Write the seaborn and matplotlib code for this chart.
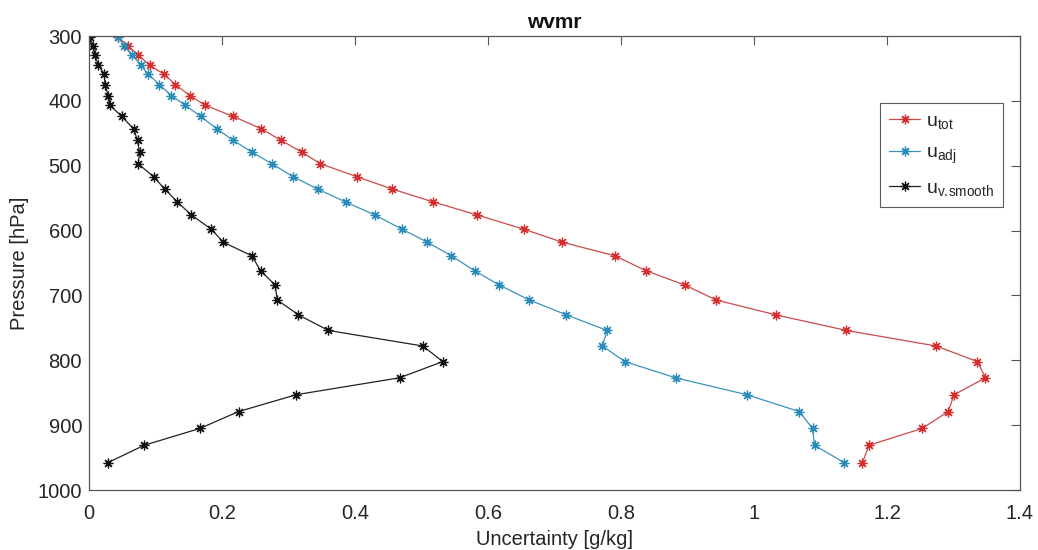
import matplotlib
matplotlib.use("Agg")
import matplotlib.pyplot as plt
import seaborn as sns
import pandas as pd

pressure = [302, 315, 329, 345, 359, 375, 392, 407, 424, 443, 461, 479, 497, 517, 536,
            556, 576, 598, 618, 639, 662, 684, 707, 730, 754, 778, 802, 827, 853, 879,
            905, 931, 958]

u_tot = [0.044, 0.058, 0.074, 0.091, 0.113, 0.130, 0.152, 0.175, 0.217, 0.259, 0.289,
         0.320, 0.348, 0.403, 0.456, 0.518, 0.584, 0.654, 0.712, 0.791, 0.838, 0.896,
         0.943, 1.033, 1.139, 1.274, 1.336, 1.348, 1.301, 1.292, 1.253, 1.173, 1.163]

u_adj = [0.044, 0.053, 0.065, 0.078, 0.089, 0.106, 0.124, 0.145, 0.168, 0.192, 0.217,
         0.245, 0.275, 0.307, 0.344, 0.386, 0.430, 0.471, 0.509, 0.545, 0.580, 0.617,
         0.662, 0.718, 0.779, 0.772, 0.806, 0.882, 0.989, 1.068, 1.088, 1.091, 1.136]

u_vsmooth = [0.001, 0.0065, 0.009, 0.014, 0.023, 0.024, 0.029, 0.032, 0.049, 0.067, 0.073,
             0.076, 0.074, 0.097, 0.114, 0.133, 0.154, 0.184, 0.202, 0.245, 0.258, 0.280,
             0.283, 0.315, 0.360, 0.502, 0.532, 0.467, 0.312, 0.225, 0.167, 0.083, 0.028]

series_labels = [r"$\mathregular{u_{tot}}$", r"$\mathregular{u_{adj}}$",
                 r"$\mathregular{u_{v.\!smooth}}$"]
x_ticks = [0, 0.2, 0.4, 0.6, 0.8, 1, 1.2, 1.4]
x_tick_labels = ["0", "0.2", "0.4", "0.6", "0.8", "1", "1.2", "1.4"]
y_ticks = [300, 400, 500, 600, 700, 800, 900, 1000]

sns.set_theme(style="white")
plt.rcParams["font.family"] = ["Liberation Sans", "DejaVu Sans"]
plt.rcParams["mathtext.fontset"] = "custom"
plt.rcParams["mathtext.rm"] = "Liberation Sans"

fig = plt.figure(figsize=(10.38, 5.5), dpi=100)
ax = fig.add_axes([89 / 1038, 1 - 490 / 550, (1020 - 89) / 1038, (490 - 36) / 550])

asterisk = (8, 2, 0)
colors = ["#d42f2f", "#2a8ab8", "#111111"]
line_colors = ["#cc4a4a", "#3a93bf", "#222222"]
for vals, lab, mc, lc in zip([u_tot, u_adj, u_vsmooth], series_labels, colors, line_colors):
    df = pd.DataFrame({"u": vals, "p": pressure})
    sns.lineplot(data=df, x="u", y="p", sort=False, estimator=None, ax=ax,
                 color=lc, linewidth=0.9, marker=asterisk, markersize=7,
                 markeredgecolor=mc, markerfacecolor=mc, markeredgewidth=0.9,
                 label=lab)

ax.set_xlim(0, 1.4)
ax.set_ylim(1000, 300)
ax.set_xticks(x_ticks)
ax.set_xticklabels(x_tick_labels)
ax.set_yticks(y_ticks)

axis_col = "#555555"
for s in ax.spines.values():
    s.set_visible(True)
    s.set_color(axis_col)
    s.set_linewidth(0.9)
ax.tick_params(direction="in", length=6.5, width=0.8, color=axis_col,
               top=True, right=True, labelsize=14.5, labelcolor="#262626")
ax.tick_params(axis="x", pad=10)
ax.tick_params(axis="y", pad=5)

ax.set_xlabel("Uncertainty [g/kg]", fontsize=14.5, color="#262626", labelpad=5)
ax.set_ylabel("Pressure [hPa]", fontsize=14.5, color="#262626", labelpad=6)
ax.set_title("wvmr", fontsize=15, fontweight="bold", color="#111111", pad=6)

leg = ax.legend(loc="upper left", bbox_to_anchor=(0.850, 0.852), borderaxespad=0,
                fontsize=14, frameon=True, fancybox=False, handlelength=1.6,
                handletextpad=0.3, labelspacing=0.7, borderpad=0.45)
leg.get_frame().set_edgecolor("#333333")
leg.get_frame().set_linewidth(0.8)

fig.savefig("out.png", dpi=100, facecolor="white")
